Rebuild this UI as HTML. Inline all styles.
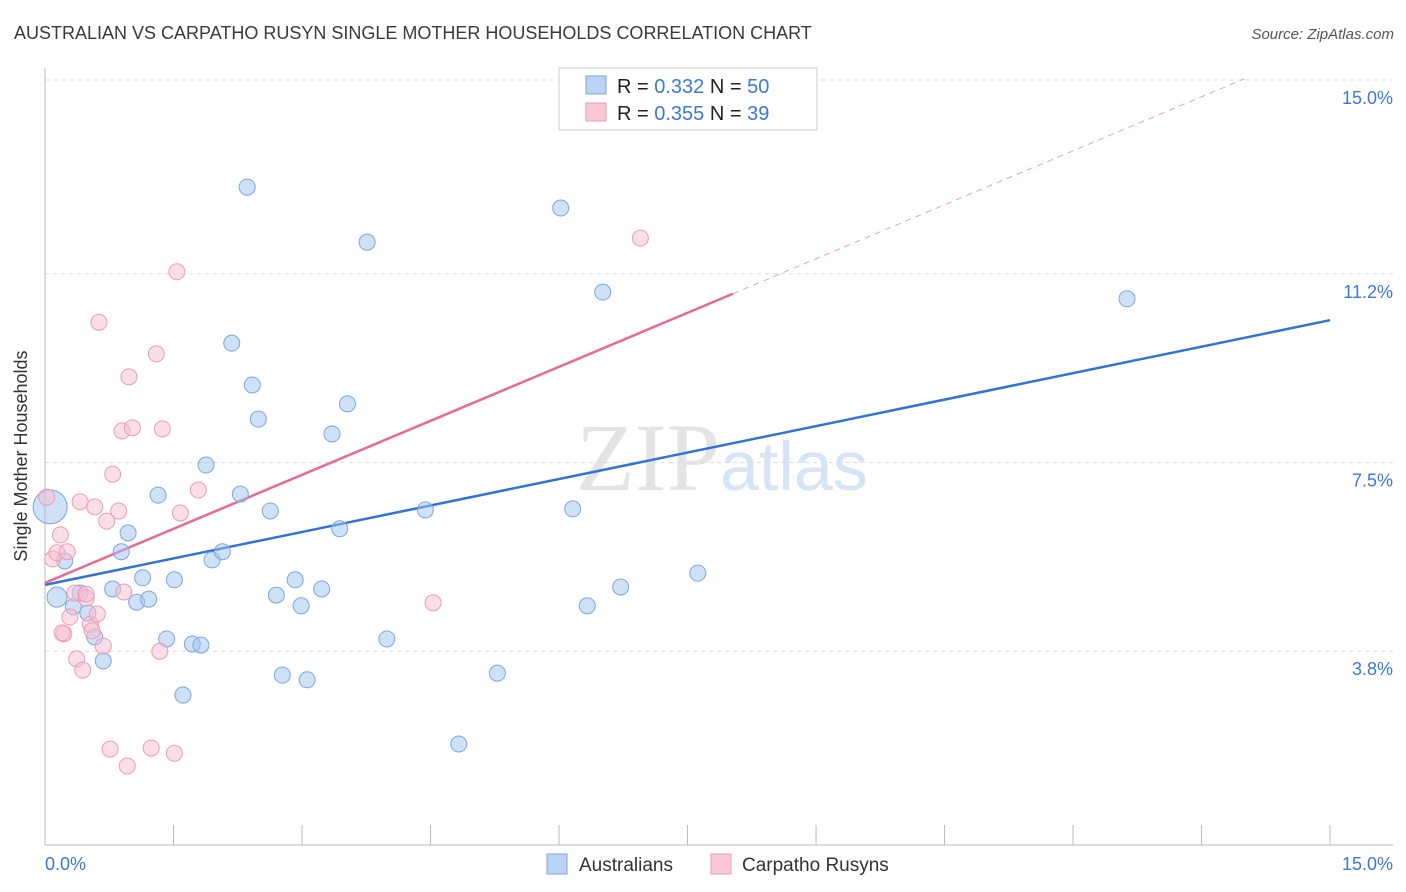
<!DOCTYPE html>
<html><head><meta charset="utf-8">
<style>
body{margin:0;background:#fff;font-family:"Liberation Sans",sans-serif;}
#wrap{position:relative;width:1406px;height:892px;overflow:hidden;}
</style></head>
<body><div id="wrap">
<svg id="svg" width="1406" height="892" xmlns="http://www.w3.org/2000/svg">
<text x="14" y="39" font-size="18" fill="#3a3a3a">AUSTRALIAN VS CARPATHO RUSYN SINGLE MOTHER HOUSEHOLDS CORRELATION CHART</text>
<text x="1394" y="39" font-size="15" fill="#555" font-style="italic" text-anchor="end">Source: ZipAtlas.com</text>
<text x="720" y="490" font-size="96" fill="#e4e4e4" font-family="Liberation Serif,serif" text-anchor="end">ZIP</text>
<text x="720" y="490" font-size="70" fill="#d6e4f5" text-anchor="start">atlas</text>
<g id="grid"></g><g id="axes"></g><g id="lines"></g><g id="pts"></g>
<text x="27" y="456" font-size="18" fill="#333" text-anchor="middle" transform="rotate(-90 27 456)">Single Mother Households</text>
<text x="45" y="870" font-size="18" fill="#3b78d8">0.0%</text>
<text x="1393" y="870" font-size="18" fill="#3b78d8" text-anchor="end">15.0%</text>
<g>
<rect x="559" y="68" width="258" height="62" fill="#fff" stroke="#ccc"/>
<rect x="586" y="76" width="20" height="18" fill="#b9d3f3" stroke="#7aa7e0"/>
<rect x="586" y="103" width="20" height="18" fill="#f9c8d6" stroke="#ee9ab2"/>
<text x="617" y="93" font-size="20" fill="#222">R = <tspan fill="#3b78d8">0.332</tspan>   N = <tspan fill="#3b78d8">50</tspan></text>
<text x="617" y="120" font-size="20" fill="#222">R = <tspan fill="#3b78d8">0.355</tspan>   N = <tspan fill="#3b78d8"> 39</tspan></text>
</g>
<g>
<rect x="547" y="854" width="20" height="20" fill="#b9d3f3" stroke="#7aa7e0"/>
<text x="579" y="871" font-size="19" fill="#333">Australians</text>
<rect x="711" y="854" width="20" height="20" fill="#f9c8d6" stroke="#ee9ab2"/>
<text x="742" y="871" font-size="19" fill="#333">Carpatho Rusyns</text>
</g>
</svg></div>
<script>
const yTicks=[3.8,7.5,11.2,15.0];
const yTickLabels=["3.8%","7.5%","11.2%","15.0%"];
const blueX=[0.06,0.14,0.23,0.33,0.41,0.50,0.58,0.68,0.79,0.89,0.97,1.07,1.14,1.21,1.32,1.42,1.51,1.61,1.72,1.82,1.88,1.95,2.07,2.18,2.28,2.36,2.42,2.49,2.63,2.70,2.77,2.92,2.99,3.06,3.23,3.35,3.44,3.53,3.76,3.99,4.44,4.83,5.28,6.02,6.16,6.33,6.51,6.72,7.62,12.63];
const blueY=[6.63,4.86,5.57,4.67,4.94,4.55,4.08,3.61,5.02,5.75,6.12,4.76,5.24,4.82,6.86,4.04,5.20,2.94,3.94,3.92,7.45,5.59,5.75,9.84,6.88,12.90,9.02,8.35,6.55,4.90,3.33,5.20,4.69,3.24,5.02,8.06,6.20,8.65,11.82,4.04,6.57,1.98,3.37,12.49,6.59,4.69,10.84,5.06,5.33,10.71];
const pinkX=[0.02,0.09,0.14,0.18,0.22,0.26,0.29,0.35,0.37,0.41,0.44,0.48,0.53,0.55,0.58,0.61,0.63,0.68,0.72,0.76,0.79,0.86,0.90,0.92,0.96,0.98,1.02,1.24,1.30,1.34,1.37,1.51,1.54,1.58,1.79,4.53,6.95,0.20,0.48];
const pinkY=[6.82,5.61,5.73,6.08,4.14,5.75,4.47,4.94,3.65,6.73,3.43,4.84,4.33,4.20,6.63,4.53,10.25,3.90,6.35,1.88,7.27,6.55,8.12,4.96,1.55,9.18,8.18,1.90,9.63,3.80,8.16,1.80,11.24,6.51,6.96,4.75,11.90,4.16,4.92];
const blueTrend=[5.10,10.29];
const pinkTrend=[5.14,0.706];
const NS="http://www.w3.org/2000/svg";
const X=v=>45+v*85.67, Y=v=>845-v*51.0;
function mk(tag,attrs,parent){const e=document.createElementNS(NS,tag);for(const k in attrs)e.setAttribute(k,attrs[k]);document.getElementById(parent).appendChild(e);return e;}
yTicks.forEach((t,i)=>{
 const l=mk('line',{x1:45,x2:1393,y1:Y(t),y2:Y(t),stroke:'#ddd','stroke-dasharray':'4 4'},'grid');
 
 
 const tx=mk('text',{x:1393,y:Y(t)+24,'font-size':18,fill:'#3b78d8','text-anchor':'end'},'grid');
 tx.textContent=yTickLabels[i];
 
 
});
const a1=mk('line',{x1:45,x2:45,y1:68,y2:845,stroke:'#bbb'},'axes');


const a2=mk('line',{x1:45,x2:1393,y1:845,y2:845,stroke:'#bbb'},'axes');


for(let i=0;i<=10;i++){const t=mk('line',{x1:X(i*1.5),x2:X(i*1.5),y1:825,y2:845,stroke:'#bbb'},'axes');
 
 }
const bl=mk('line',{x1:X(0),y1:Y(blueTrend[0]),x2:X(15),y2:Y(blueTrend[1]),stroke:'#2f74d6','stroke-width':2.5},'lines');


const pEnd=8.03,pDash=14.0;
const pl=mk('line',{x1:X(0),y1:Y(pinkTrend[0]),x2:X(pEnd),y2:Y(pinkTrend[0]+pinkTrend[1]*pEnd),stroke:'#e86a93','stroke-width':2.5},'lines');


const pd=mk('line',{x1:X(pEnd),y1:Y(pinkTrend[0]+pinkTrend[1]*pEnd),x2:X(pDash),y2:Y(pinkTrend[0]+pinkTrend[1]*pDash),stroke:'#eaa0b8','stroke-width':1,'stroke-dasharray':'6 5'},'lines');


blueX.forEach((x,i)=>{const c=mk('circle',{cx:X(x),cy:Y(blueY[i]),r:i==0?17:(i==1?10:8),fill:'rgba(160,196,240,0.5)',stroke:'#7aa7e0','stroke-width':1},'pts');
 
 });
pinkX.forEach((x,i)=>{const c=mk('circle',{cx:X(x),cy:Y(pinkY[i]),r:8,fill:'rgba(248,190,208,0.5)',stroke:'#ee9ab2','stroke-width':1},'pts');
 
 });
</script>
</body></html>
